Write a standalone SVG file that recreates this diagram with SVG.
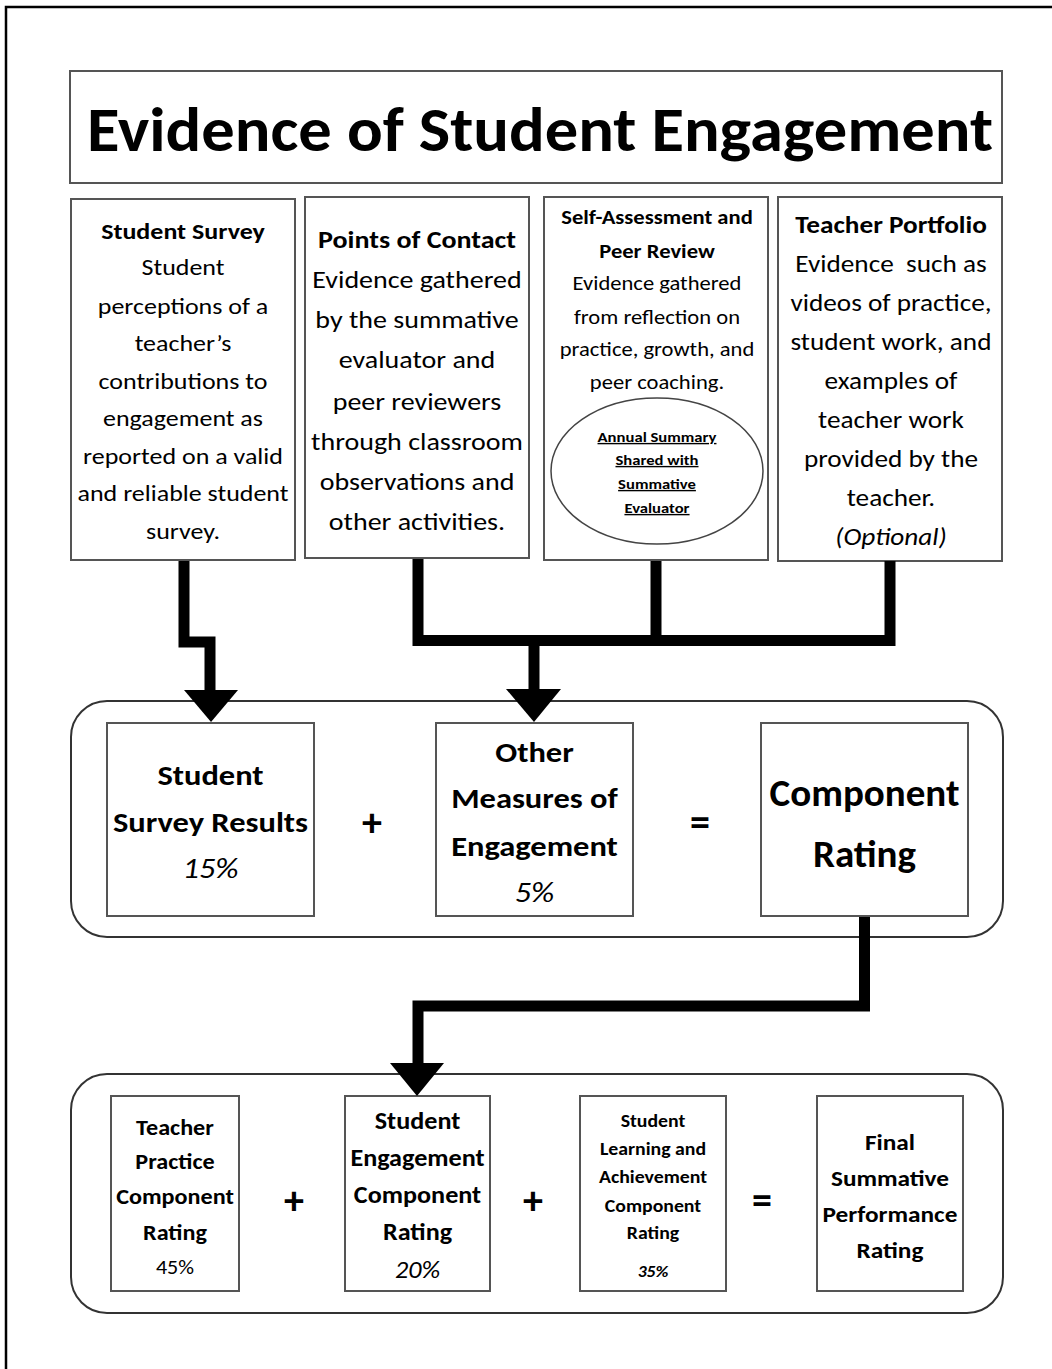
<svg xmlns="http://www.w3.org/2000/svg" width="1052" height="1369" viewBox="0 0 1052 1369">
<style>
.t{font-family:Carlito,Lato,'Liberation Sans',sans-serif;text-anchor:middle;fill:#000}
.b{font-weight:bold}
.i{font-style:italic}
.u{text-decoration:underline}
.box{fill:#fff;stroke:#555;stroke-width:2}
.cont{fill:none;stroke:#333;stroke-width:2}
.conn{fill:none;stroke:#000;stroke-width:11;stroke-linejoin:miter;stroke-linecap:butt}
.head{fill:#000}
</style>
<rect width="1052" height="1369" fill="#fff"/>
<path d="M1052,7 H6 V1369" fill="none" stroke="#000" stroke-width="2.5"/>

<g id="title">
<rect class="box" x="70" y="71" width="932" height="112"/>
<text class="t b" x="540" y="151" font-size="62" textLength="906" lengthAdjust="spacingAndGlyphs">Evidence of Student Engagement</text>
</g>

<g id="student-survey">
<rect class="box" x="71" y="199" width="224" height="361"/>
<g class="t" font-size="23" transform="matrix(1.13 0 0 1 -23.79 0)">
<text class="b" x="183" y="239">Student Survey</text>
<text x="183" y="275">Student</text>
<text x="183" y="314">perceptions of a</text>
<text x="183" y="351">teacher’s</text>
<text x="183" y="389">contributions to</text>
<text x="183" y="426">engagement as</text>
<text x="183" y="464">reported on a valid</text>
<text x="183" y="501">and reliable student</text>
<text x="183" y="539">survey.</text>
</g>
</g>

<g id="points-of-contact">
<rect class="box" x="305" y="197" width="224" height="361"/>
<g class="t" font-size="25" transform="matrix(1.12 0 0 1 -50.04 0)">
<text class="b" x="417" y="248">Points of Contact</text>
<text x="417" y="288">Evidence gathered</text>
<text x="417" y="328">by the summative</text>
<text x="417" y="368">evaluator and</text>
<text x="417" y="410">peer reviewers</text>
<text x="417" y="450">through classroom</text>
<text x="417" y="490">observations and</text>
<text x="417" y="530">other activities.</text>
</g>
</g>

<g id="self-assessment">
<rect class="box" x="544" y="197" width="224" height="363"/>
<g class="t" font-size="20" transform="matrix(1.13 0 0 1 -85.41 0)">
<text class="b" x="657" y="224">Self-Assessment and</text>
<text class="b" x="657" y="258">Peer Review</text>
<text x="657" y="290">Evidence gathered</text>
<text x="657" y="324">from reflection on</text>
<text x="657" y="356">practice, growth, and</text>
<text x="657" y="389">peer coaching.</text>
</g>
<ellipse cx="657" cy="471" rx="106" ry="73" fill="none" stroke="#444" stroke-width="1.5"/>
<g class="t b u" font-size="14" transform="matrix(1.19 0 0 1 -124.83 0)">
<text x="657" y="442">Annual Summary</text>
<text x="657" y="465">Shared with</text>
<text x="657" y="489">Summative</text>
<text x="657" y="513">Evaluator</text>
</g>
</g>

<g id="teacher-portfolio">
<rect class="box" x="778" y="197" width="224" height="364"/>
<g class="t" font-size="25" transform="matrix(1.09 0 0 1 -80.19 0)">
<text class="b" x="891" y="233">Teacher Portfolio</text>
<text x="891" y="272" xml:space="preserve">Evidence  such as</text>
<text x="891" y="311">videos of practice,</text>
<text x="891" y="350">student work, and</text>
<text x="891" y="389">examples of</text>
<text x="891" y="428">teacher work</text>
<text x="891" y="467">provided by the</text>
<text x="891" y="506">teacher.</text>
<text class="i" x="891" y="545">(Optional)</text>
</g>
</g>

<g id="component-group">
<rect class="cont" x="71" y="701" width="932" height="236" rx="36" ry="36"/>
</g>

<g id="survey-results">
<rect class="box" x="107" y="723" width="207" height="193"/>
<g class="t" font-size="28" transform="matrix(1.16 0 0 1 -33.68 0)">
<text class="b" x="210.5" y="785">Student</text>
<text class="b" x="210.5" y="832">Survey Results</text>
<text class="i" x="210.5" y="878">15%</text>
</g>
</g>

<g id="other-measures">
<rect class="box" x="436" y="723" width="197" height="193"/>
<g class="t" font-size="28" transform="matrix(1.16 0 0 1 -85.52 0)">
<text class="b" x="534.5" y="762">Other</text>
<text class="b" x="534.5" y="808">Measures of</text>
<text class="b" x="534.5" y="856">Engagement</text>
<text class="i" x="534.5" y="902">5%</text>
</g>
</g>

<g id="component-rating">
<rect class="box" x="761" y="723" width="207" height="193"/>
<g class="t b" font-size="39">
<text x="864.5" y="806">Component</text>
<text x="864.5" y="867">Rating</text>
</g>
</g>

<g id="ops1" class="t b" font-size="40">
<text x="372" y="836">+</text>
<text x="700" y="836">=</text>
</g>

<g id="final-group">
<rect class="cont" x="71" y="1074" width="932" height="239" rx="36" ry="36"/>
</g>

<g id="teacher-practice">
<rect class="box" x="111" y="1096" width="128" height="195"/>
<g class="t" font-size="23" transform="matrix(1.05 0 0 1 -8.75 0)">
<text class="b" x="175" y="1135">Teacher</text>
<text class="b" x="175" y="1169">Practice</text>
<text class="b" x="175" y="1204">Component</text>
<text class="b" x="175" y="1240">Rating</text>
<text x="175" y="1274" font-size="21">45%</text>
</g>
</g>

<g id="student-engagement">
<rect class="box" x="345" y="1096" width="145" height="195"/>
<g class="t" font-size="24" transform="matrix(1.09 0 0 1 -37.575 0)">
<text class="b" x="417.5" y="1129">Student</text>
<text class="b" x="417.5" y="1166">Engagement</text>
<text class="b" x="417.5" y="1203">Component</text>
<text class="b" x="417.5" y="1240">Rating</text>
<text class="i" x="417.5" y="1278">20%</text>
</g>
</g>

<g id="student-learning">
<rect class="box" x="580" y="1096" width="146" height="195"/>
<g class="t b" font-size="18" transform="matrix(1.1 0 0 1 -65.3 0)">
<text x="653" y="1127">Student</text>
<text x="653" y="1155">Learning and</text>
<text x="653" y="1183">Achievement</text>
<text x="653" y="1212">Component</text>
<text x="653" y="1239">Rating</text>
<text class="i" x="653" y="1277" font-size="16">35%</text>
</g>
</g>

<g id="final-rating">
<rect class="box" x="817" y="1096" width="146" height="195"/>
<g class="t b" font-size="23" transform="matrix(1.1 0 0 1 -89 0)">
<text x="890" y="1150">Final</text>
<text x="890" y="1186">Summative</text>
<text x="890" y="1222">Performance</text>
<text x="890" y="1258">Rating</text>
</g>
</g>

<g id="ops2" class="t b" font-size="40">
<text x="294" y="1214">+</text>
<text x="533" y="1214">+</text>
<text x="762" y="1214">=</text>
</g>

<g id="connectors">
<path class="conn" d="M184,561 V642 H210 V691"/>
<polygon class="head" points="184,690 238,690 211,722"/>
<path class="conn" d="M418,559 V640.5 H890 V561"/>
<path class="conn" d="M656,561 V640"/>
<path class="conn" d="M534,640 V690"/>
<polygon class="head" points="506,689 561,689 534,722"/>
<path class="conn" d="M864.5,917 V1006 H418 V1064"/>
<polygon class="head" points="390,1063 444,1063 417,1096"/>
</g>
</svg>
